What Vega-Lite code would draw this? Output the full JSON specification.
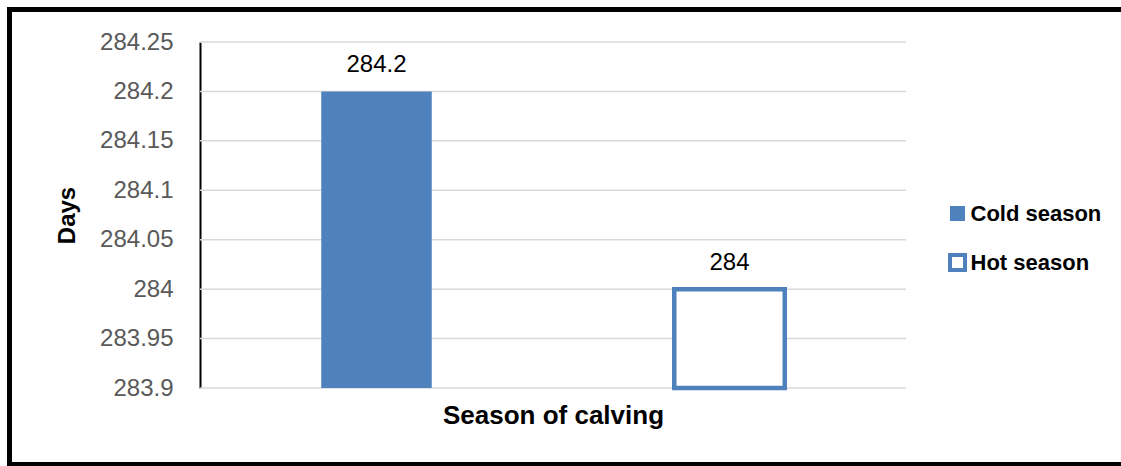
{
  "$schema": "https://vega.github.io/schema/vega-lite/v6.json",
  "autosize": {"type": "none"},
  "padding": {"left": 9.5, "top": 9.5, "right": -30, "bottom": 1.5},
  "width": 1141.5,
  "height": 455,
  "background": "#ffffff",
  "config": {
    "view": {"stroke": "#000000", "strokeWidth": 5},
    "font": "Liberation Sans",
    "axisY": {
      "grid": false, "ticks": false, "tickSize": 0,
      "domainColor": "#000000", "domainWidth": 2,
      "labelFont": "Liberation Sans", "labelFontSize": 24, "labelColor": "#595959",
      "labelPadding": 27, "labelFlush": false, "labelOverlap": false,
      "titleFont": "Liberation Sans", "titleFontSize": 24, "titleFontWeight": "bold",
      "titleColor": "#000000", "titlePadding": 20
    },
    "axisX": {
      "labels": false, "ticks": false, "domain": false, "grid": false,
      "titleFontSize": 26, "titleFontWeight": "bold", "titleColor": "#000000",
      "titleFont": "Liberation Sans", "titlePadding": 14
    }
  },
  "resolve": {"scale": {"x": "independent"}, "axis": {"x": "independent"}},
  "layer": [
    {
      "data": {
        "values": [
          {"tick": 283.9}, {"tick": 283.95}, {"tick": 284.0}, {"tick": 284.05},
          {"tick": 284.1}, {"tick": 284.15}, {"tick": 284.2}, {"tick": 284.25}
        ]
      },
      "mark": {"type": "rule", "color": "#D9D9D9", "strokeWidth": 1.5},
      "encoding": {
        "x": {"datum": 0, "type": "quantitative", "scale": {"domain": [0, 1], "range": [190.5, 896.5]}, "axis": null},
        "x2": {"datum": 1},
        "y": {
          "field": "tick", "type": "quantitative",
          "scale": {"domain": [283.9, 284.25], "range": [378.5, 32.5], "zero": false, "nice": false},
          "axis": {
            "title": "Days", "orient": "left", "offset": -190.5, "format": "~g",
            "values": [283.9, 283.95, 284.0, 284.05, 284.1, 284.15, 284.2, 284.25]
          }
        }
      }
    },
    {
      "data": {
        "values": [
          {"season": "Cold season", "days": 284.2},
          {"season": "Hot season", "days": 284.0}
        ]
      },
      "layer": [
        {
          "mark": {"type": "bar", "width": {"band": 0.313}, "stroke": "#4F81BD"},
          "encoding": {
            "x": {
              "field": "season", "type": "nominal", "sort": null,
              "scale": {"domain": ["Cold season", "Hot season"], "range": [190.5, 896.5], "paddingInner": 0, "paddingOuter": 0},
              "axis": {"title": "Season of calving", "offset": -76.5}
            },
            "y": {
              "field": "days", "type": "quantitative",
              "scale": {"domain": [283.9, 284.25], "range": [378.5, 32.5], "zero": false, "nice": false},
              "axis": {
                "title": "Days", "orient": "left", "offset": -190.5, "format": "~g",
                "values": [283.9, 283.95, 284.0, 284.05, 284.1, 284.15, 284.2, 284.25]
              }
            },
            "y2": {"datum": 283.9},
            "fill": {
              "field": "season", "type": "nominal",
              "scale": {"domain": ["Cold season", "Hot season"], "range": ["#4F81BD", "#FFFFFF"]},
              "legend": {
                "title": null, "orient": "none", "legendX": 937, "legendY": 193, "padding": 0,
                "symbolType": "square", "symbolSize": 225, "symbolOpacity": 1,
                "symbolStrokeColor": "#4F81BD",
                "labelFont": "Liberation Sans", "labelFontSize": 22, "labelFontWeight": "bold",
                "labelColor": "#000000", "labelOffset": 2, "rowPadding": 22,
                "encode": {
                  "symbols": {
                    "update": {
                      "stroke": {"value": "#4F81BD"},
                      "strokeWidth": {"signal": "datum.value === 'Hot season' ? 4 : 0"}
                    }
                  }
                }
              }
            },
            "strokeWidth": {"condition": {"test": "datum.season === 'Hot season'", "value": 4.5}, "value": 0}
          }
        },
        {
          "mark": {"type": "text", "fontSize": 24, "color": "#000000", "baseline": "alphabetic", "dy": -19, "font": "Liberation Sans"},
          "encoding": {
            "x": {
              "field": "season", "type": "nominal", "sort": null,
              "axis": {"title": "Season of calving", "offset": -76.5}
            },
            "y": {
              "field": "days", "type": "quantitative",
              "axis": {
                "title": "Days", "orient": "left", "offset": -190.5, "format": "~g",
                "values": [283.9, 283.95, 284.0, 284.05, 284.1, 284.15, 284.2, 284.25]
              }
            },
            "text": {"field": "days", "type": "quantitative", "format": "~g"}
          }
        }
      ]
    }
  ]
}
